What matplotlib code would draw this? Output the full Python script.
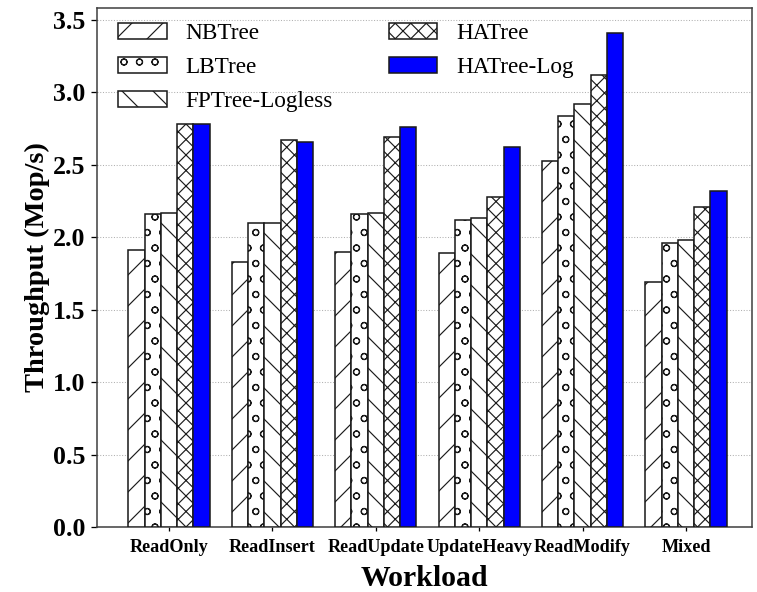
import matplotlib
matplotlib.use("Agg")
import matplotlib.pyplot as plt
import numpy as np

workloads = ["ReadOnly", "ReadInsert", "ReadUpdate", "UpdateHeavy", "ReadModify", "Mixed"]
series_names = ["NBTree", "LBTree", "FPTree-Logless", "HATree", "HATree-Log"]

nbtree = [1.91, 1.83, 1.90, 1.89, 2.53, 1.69]
lbtree = [2.16, 2.10, 2.16, 2.12, 2.84, 1.96]
fptree_logless = [2.17, 2.10, 2.17, 2.13, 2.92, 1.98]
hatree = [2.78, 2.67, 2.69, 2.28, 3.12, 2.21]
hatree_log = [2.78, 2.66, 2.76, 2.62, 3.41, 2.32]

yticks = [0.0, 0.5, 1.0, 1.5, 2.0, 2.5, 3.0, 3.5]

plt.rcParams["font.family"] = ["Liberation Serif", "DejaVu Serif"]
plt.rcParams["hatch.linewidth"] = 0.45

DPI = 186
fig = plt.figure(figsize=(757 / DPI, 592 / DPI), dpi=DPI)
ax = fig.add_axes([97 / 757, 1 - 527 / 592, (752 - 97) / 757, (527 - 8) / 592])

x = np.arange(len(workloads))
width = 0.157
all_series = [nbtree, lbtree, fptree_logless, hatree, hatree_log]
hatches = ["//", "oo", "\\\\", "xxxx", ""]
faces = ["white", "white", "white", "white", "#0000ff"]

for i, (vals, name) in enumerate(zip(all_series, series_names)):
    ax.bar(x + (i - 2) * width, vals, width, label=name, color=faces[i],
           edgecolor="#1a1a1a", linewidth=0.6, hatch=hatches[i], zorder=3)

ax.set_xlim(-0.696, 5.638)
ax.set_ylim(0, 3.583)
ax.set_yticks(yticks)
ax.set_yticklabels([f"{v:.1f}" for v in yticks], fontsize=10, fontweight="bold")
ax.set_xticks(x)
ax.set_xticklabels(workloads, fontsize=7, fontweight="bold")
ax.tick_params(axis="y", length=2.5, width=0.5, pad=2)
ax.tick_params(axis="x", length=1.5, width=0.5, pad=3)

ax.yaxis.grid(True, linestyle=":", color="#b0b0b0", linewidth=0.4, zorder=0)
ax.set_axisbelow(True)
for s in ax.spines.values():
    s.set_color("#404040")
    s.set_linewidth(0.6)

ax.set_xlabel("Workload", fontsize=11.5, fontweight="bold", labelpad=3.5)
ax.set_ylabel("Throughput (Mop/s)", fontsize=11, fontweight="bold", labelpad=1)

ax.legend(ncol=2, loc="upper left", bbox_to_anchor=(0.0, 1.012), frameon=False, fontsize=9,
          handlelength=2.1, handleheight=0.7, handletextpad=0.8,
          columnspacing=2.4, labelspacing=0.55, borderaxespad=0.5)

fig.savefig("out.png", dpi=DPI)
